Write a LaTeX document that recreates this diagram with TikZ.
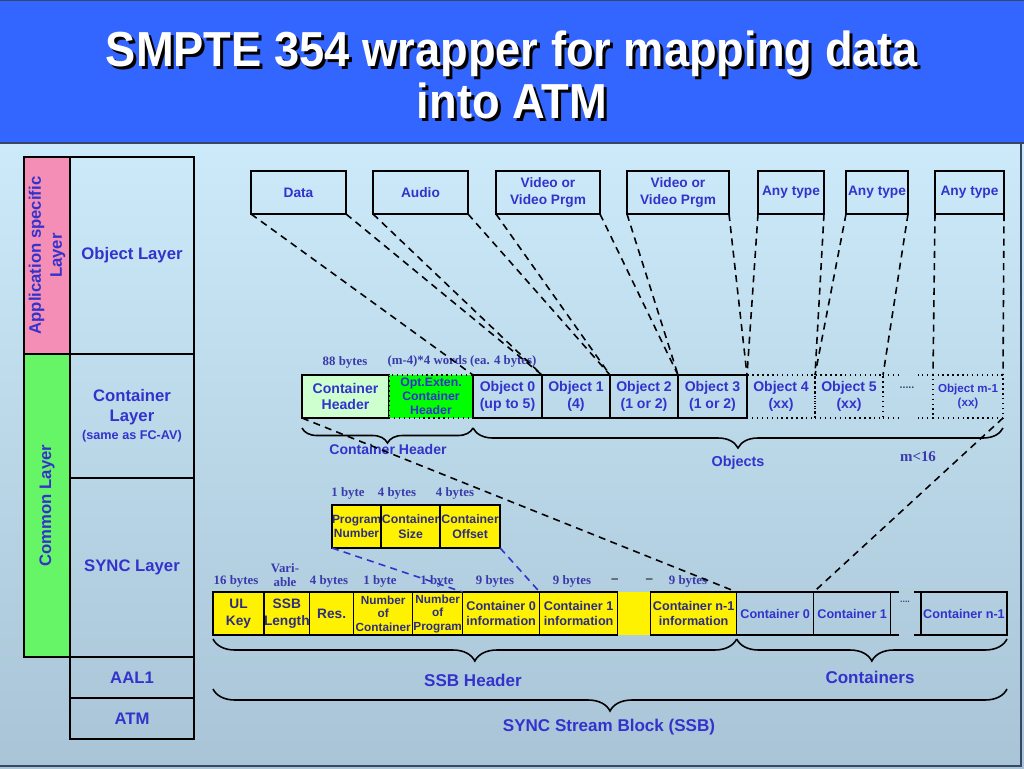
\documentclass[tikz,border=0pt]{standalone}
\usepackage{fontspec}
\setmainfont{Liberation Sans}
\newfontfamily\timesFont{Liberation Serif}
\usetikzlibrary{positioning, calc, decorations.pathreplacing}
\definecolor{titleBlue}{RGB}{51,102,255}
\definecolor{smpteBlue}{RGB}{51,51,204}
\definecolor{byteBlue}{RGB}{58,58,170}
\definecolor{yellowText}{RGB}{45,45,130}
\definecolor{bgTop}{RGB}{204,234,250}
\definecolor{bgBottom}{RGB}{168,196,214}
\definecolor{appPink}{RGB}{244,142,182}
\definecolor{commonGreen}{RGB}{102,245,102}
\definecolor{hdrGreen}{RGB}{206,255,206}
\definecolor{optGreen}{RGB}{0,255,0}
\definecolor{frameGrey}{RGB}{55,70,100}
\newcommand{\fsz}[2]{\fontsize{#1}{#2}\selectfont\bfseries}
\tikzset{
  field/.style={draw, line width=0.8pt, outer sep=0pt, inner sep=0pt, align=center, text=smpteBlue, minimum height=43*0.02cm, anchor=north west},
  wd/.style={minimum width=#1*0.02cm},
  ht/.style={minimum height=#1*0.02cm},
  bytes/.style={text=byteBlue, font=\timesFont\fsz{7.3}{8.3}, align=center, inner sep=0pt},
  label/.style={text=smpteBlue, align=center, inner sep=0pt},
  heading/.style={align=center, xscale=0.92, font=\fsz{28}{30}},
  link/.style={line width=0.9pt, dash pattern=on 4pt off 3pt},
  curly/.style={decorate, decoration={brace, mirror, amplitude=#1*0.02cm}, line width=0.9pt},
}

\begin{document}
\begin{tikzpicture}[x=0.02cm, y=-0.02cm, line cap=butt]

  \useasboundingbox (0,0) rectangle (1024,768);

  % title band and background
  \shade[top color=bgTop, bottom color=bgBottom] (0,143) rectangle (1024,768);
  \fill[titleBlue] (0,0) rectangle (1024,143);
  \draw[frameGrey, line width=1.2pt] (0,143) -- (1024,143);
  \draw[frameGrey, line width=1pt] (0,0.5) -- (1024,0.5);
  \draw[frameGrey, line width=1pt] (1021,143) -- (1021,766) -- (0,766);
  \node[heading, text=black] (titleShadow) at (515,78) {SMPTE 354 wrapper for mapping data\\into ATM};
  \node[heading, text=white] (title) at (512,75) {SMPTE 354 wrapper for mapping data\\into ATM};

  % layer table
  \node[field, fill=appPink, rotate=90, wd=197, ht=46, anchor=north east, font=\fsz{9.5}{12}] (appLayer) at (24,157) {Application specific\\Layer};
  \node[field, fill=commonGreen, rotate=90, wd=303, ht=46, anchor=north east, font=\fsz{9.5}{12}] (commonLayer) at (24,354) {Common Layer};
  \node[field, wd=124, ht=197, font=\fsz{9.5}{12}] (objLayer) at (70,157) {Object Layer};
  \node[field, wd=124, ht=124, font=\fsz{9.5}{11.3}] (contLayer) at (70,354) {Container\\Layer\\[-1pt]{\fsz{7.2}{8}(same as FC-AV)}};
  \node[field, wd=124, ht=179, font=\fsz{9.5}{12}] (syncLayer) at (70,478) {SYNC Layer};
  \node[field, wd=124, ht=41, font=\fsz{9.5}{12}] (aalLayer) at (70,657) {AAL1};
  \node[field, wd=124, ht=41, font=\fsz{9.5}{12}] (atmLayer) at (70,698) {ATM};

  % objects
  \node[field, wd=95, font=\fsz{7.8}{9.5}] (data) at (251,171) {Data};
  \node[field, wd=95, font=\fsz{7.8}{9.5}] (audio) at (373,171) {Audio};
  \node[field, wd=104, font=\fsz{7.8}{9.5}] (videoA) at (496,171) {Video or\\Video Prgm};
  \node[field, wd=102, font=\fsz{7.8}{9.5}] (videoB) at (627,171) {Video or\\Video Prgm};
  \node[field, wd=66, font=\fsz{7.8}{9.5}] (anyA) at (758,171) {Any type};
  \node[field, wd=62, font=\fsz{7.8}{9.5}] (anyB) at (846,171) {Any type};
  \node[field, wd=69, font=\fsz{7.8}{9.5}] (anyC) at (935,171) {Any type};

  % container
  \node[field, wd=87, fill=hdrGreen, font=\fsz{8}{9.6}] (hdr) at (302,375) {Container\\Header};
  \node[field, wd=84, fill=optGreen, dotted, right=0pt of hdr, font=\fsz{7}{7.9}] (optHdr) {Opt.Exten.\\Container\\Header};
  \node[field, wd=69, right=0pt of optHdr, font=\fsz{8}{9.6}] (obj0) {Object 0\\(up to 5)};
  \node[field, wd=68, right=0pt of obj0, font=\fsz{8}{9.6}] (obj1) {Object 1\\(4)};
  \node[field, wd=68, right=0pt of obj1, font=\fsz{8}{9.6}] (obj2) {Object 2\\(1 or 2)};
  \node[field, wd=69, right=0pt of obj2, font=\fsz{8}{9.6}] (obj3) {Object 3\\(1 or 2)};
  \node[field, wd=68, dotted, right=0pt of obj3, font=\fsz{8}{9.6}] (obj4) {Object 4\\(xx)};
  \node[field, wd=68, dotted, right=0pt of obj4, font=\fsz{8}{9.6}] (obj5) {Object 5\\(xx)};
  \node[field, wd=70, dotted, font=\fsz{6.6}{8}] (objM) at (933,375) {Object m-1\\(xx)};
  \draw[dotted, line width=0.8pt] (obj5.north east) -- ++(16,0) (obj5.south east) -- ++(16,0);
  \draw[dotted, line width=0.8pt] (objM.north west) -- ++(-15,0) (objM.south west) -- ++(-15,0);
  \node[font=\fsz{6}{7}, text=frameGrey] (objDots) at (907,388) {.....};
  \node[bytes] (hdrBytes) at (345,362) {88 bytes};
  \node[bytes] (optBytes) at (462,361) {(m-4)*4 words (ea. 4 bytes)};

  \draw[link] (data.south west) -- (obj0.north west);
  \draw[link] (data.south east) -- (obj1.north west);
  \draw[link] (audio.south west) -- (obj1.north west);
  \draw[link] (audio.south east) -- (obj2.north west);
  \draw[link] (videoA.south west) -- (obj2.north west);
  \draw[link] (videoA.south east) -- (obj3.north west);
  \draw[link] (videoB.south west) -- (obj3.north west);
  \draw[link] (videoB.south east) -- (obj4.north west);
  \draw[link] (anyA.south west) -- (obj4.north west);
  \draw[link] (anyA.south east) -- (obj5.north west);
  \draw[link] (anyB.south west) -- (obj5.north west);
  \draw[link] (anyB.south east) -- (obj5.north east);
  \draw[link] (anyC.south west) -- (objM.north west);
  \draw[link] (anyC.south east) -- (objM.north east);

  \draw[curly=15] ($ (hdr.south west)+(0,10) $) -- ($ (optHdr.south east)+(0,10) $);
  \draw[curly=20] ($ (obj0.south west)+(0,10) $) -- ($ (objM.south east)+(0,10) $);
  \node[label, font=\fsz{8}{9.6}] (hdrBrace) at (388,449) {Container Header};
  \node[label, font=\fsz{8.2}{9.6}] (objBrace) at (738,463) {Objects};
  \node[bytes, font=\timesFont\fsz{8.5}{10}] (mLimit) at (918,457) {m<16};

  % container 0 information
  \node[field, wd=44, fill=yellow, text=yellowText, font=\fsz{6.8}{8.2}] (progNum) at (332,505) {Program\\Number};
  \node[field, wd=59, fill=yellow, text=yellowText, right=0pt of progNum, font=\fsz{7}{8.2}] (contSize) {Container\\Size};
  \node[field, wd=60, fill=yellow, text=yellowText, right=0pt of contSize, font=\fsz{7}{8.2}] (contOff) {Container\\Offset};
  \node[bytes] (pnBytes) at (348,493) {1 byte};
  \node[bytes] (csBytes) at (397,493) {4 bytes};
  \node[bytes] (coBytes) at (455,493) {4 bytes};

  % SYNC stream block
  \node[field, wd=51, fill=yellow, text=yellowText, font=\fsz{7.8}{9.6}] (ulKey) at (213,592) {UL\\Key};
  \node[field, wd=43, fill=yellow, text=yellowText, right=0pt of ulKey, font=\fsz{7.8}{9.6}] (ssbLen) {SSB\\Length};
  \node[field, wd=44, fill=yellow, text=yellowText, right=0pt of ssbLen, font=\fsz{7.8}{9.6}] (resField) {Res.};
  \node[field, wd=59, fill=yellow, text=yellowText, right=0pt of resField, font=\fsz{6.7}{7.7}] (numCont) {Number\\of\\Container};
  \node[field, wd=50, fill=yellow, text=yellowText, right=0pt of numCont, font=\fsz{6.7}{7.7}] (numProg) {Number\\of\\Program};
  \node[field, wd=77, fill=yellow, text=yellowText, right=0pt of numProg, font=\fsz{7.2}{9}] (infoA) {Container 0\\information};
  \node[field, wd=78, fill=yellow, text=yellowText, right=0pt of infoA, font=\fsz{7.2}{9}] (infoB) {Container 1\\information};
  \node[field, wd=33, fill=yellow, draw=none, right=0pt of infoB] (infoGap) {};
  \node[field, wd=86, fill=yellow, text=yellowText, right=0pt of infoGap, font=\fsz{7.2}{9}] (infoN) {Container n-1\\information};
  \node[field, wd=77, right=0pt of infoN, font=\fsz{7.2}{9}] (contA) {Container 0};
  \node[field, wd=77, right=0pt of contA, font=\fsz{7.2}{9}] (contB) {Container 1};
  \node[field, wd=86, font=\fsz{7.2}{9}] (contN) at (921,592) {Container n-1};
  \draw[line width=0.8pt] (contB.north east) -- ++(8,0) (contB.south east) -- ++(8,0);
  \draw[line width=0.8pt] (contN.north west) -- ++(-7,0) (contN.south west) -- ++(-7,0);
  \node[font=\fsz{5}{6}, text=frameGrey] (contDots) at (905,602) {....};

  \node[bytes] (ulBytes) at (236,581) {16 bytes};
  \node[bytes] (lenBytes) at (285,575) {Vari-\\able};
  \node[bytes] (resBytes) at (329,581) {4 bytes};
  \node[bytes] (ncBytes) at (380,581) {1 byte};
  \node[bytes] (npBytes) at (437,581) {1 byte};
  \node[bytes] (iaBytes) at (495,581) {9 bytes};
  \node[bytes] (ibBytes) at (572,581) {9 bytes};
  \node[bytes, text=black] (gapDash) at (632,581) {\textendash\hspace{16pt}\textendash};
  \node[bytes] (inBytes) at (688,581) {9 bytes};

  \draw[link] (hdr.south west) -- (contA.north west);
  \draw[link] (objM.south east) -- (contB.north west);
  \draw[link, smpteBlue] (progNum.south west) -- (numProg.north east);
  \draw[link, smpteBlue] (contOff.south east) -- (infoA.north east);

  \draw[curly=22] ($ (ulKey.south west)+(0,4) $) -- ($ (infoN.south east)+(0,4) $);
  \draw[curly=22] ($ (contA.south west)+(0,4) $) -- ($ (contN.south east)+(0,4) $);
  \draw[curly=22] ($ (ulKey.south west)+(0,54) $) -- ($ (contN.south east)+(0,54) $);
  \node[label, font=\fsz{9.7}{11}] (ssbHdr) at (473,680) {SSB Header};
  \node[label, font=\fsz{9.7}{11}] (ssbCont) at (870,677) {Containers};
  \node[label, font=\fsz{9.7}{11}] (ssbAll) at (609,727) {SYNC Stream Block (SSB)};

\end{tikzpicture}
\end{document}
